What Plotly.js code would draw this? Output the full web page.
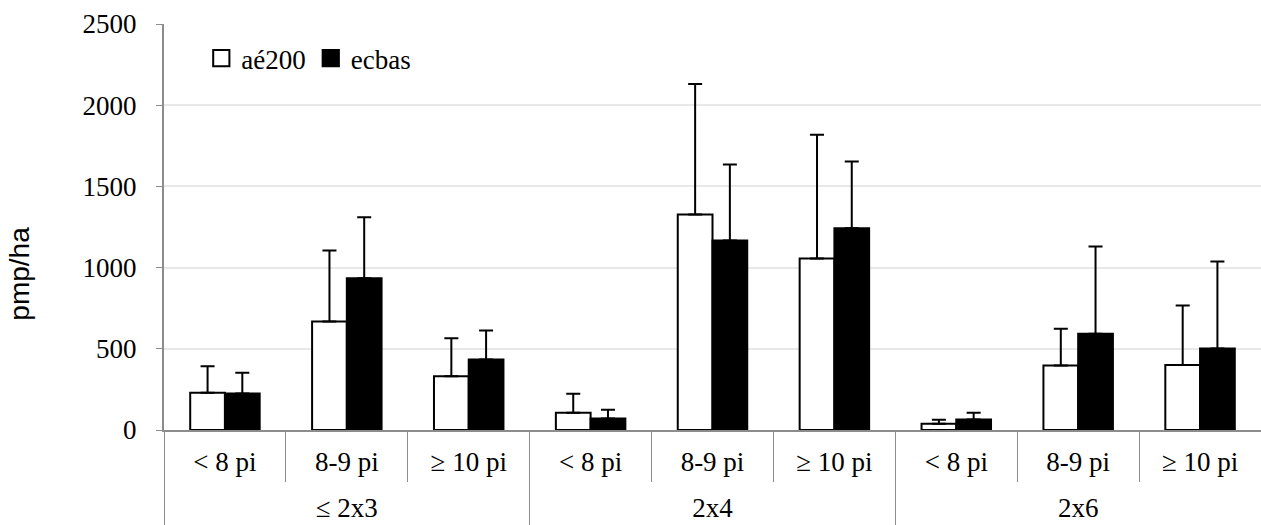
<!DOCTYPE html>
<html>
<head>
<meta charset="utf-8">
<script src="https://cdn.plot.ly/plotly-3.0.1.min.js"></script>
<style>html,body{margin:0;padding:0;background:#fff;}#chart{width:1261px;height:525px;}</style>
</head>
<body>
<div id="chart"></div>
<script>
const groups = ["≤ 2x3","≤ 2x3","≤ 2x3","2x4","2x4","2x4","2x6","2x6","2x6"];
const classes = ["< 8 pi","8-9 pi","≥ 10 pi","< 8 pi","8-9 pi","≥ 10 pi","< 8 pi","8-9 pi","≥ 10 pi"];
const ae200 = [229, 668, 331, 106, 1327, 1056, 38, 397, 401];
const ae200Err = [164, 437, 234, 117, 803, 762, 25, 226, 366];
const ecbas = [225, 935, 434, 71, 1167, 1243, 65, 592, 502];
const ecbasErr = [127, 375, 179, 53, 468, 410, 41, 538, 536];
const yTitle = "pmp/ha";

const serif = "Liberation Serif, serif";
const tickFont = {family: serif, size: 27, color: "#000"};

const traces = [
  {type: "bar", name: "aé200", x: [groups, classes], y: ae200,
   marker: {color: "#fff", line: {color: "#000", width: 2}},
   error_y: {type: "data", array: ae200Err, symmetric: false, arrayminus: ae200.map(() => 0), color: "#000", thickness: 2, width: 7}},
  {type: "bar", name: "ecbas", x: [groups, classes], y: ecbas,
   marker: {color: "#000", line: {color: "#000", width: 2}},
   error_y: {type: "data", array: ecbasErr, symmetric: false, arrayminus: ecbas.map(() => 0), color: "#000", thickness: 2, width: 7}}
];

const layout = {
  width: 1261, height: 525,
  margin: {l: 164, r: 0, t: 24, b: 95},
  paper_bgcolor: "#fff", plot_bgcolor: "#fff",
  barmode: "group", bargap: 0.43, bargroupgap: 0,
  showlegend: true,
  legend: {orientation: "h", x: 0.034, y: 0.975, xanchor: "left", yanchor: "top",
           font: {family: serif, size: 27, color: "#000"},
           bgcolor: "rgba(0,0,0,0)", itemwidth: 30, traceorder: "normal"},
  xaxis: {type: "multicategory", showline: true, linecolor: "#8c8c8c", linewidth: 2,
          ticks: "outside", ticklen: 50, tickcolor: "#8c8c8c", tickwidth: 1,
          showdividers: true, dividercolor: "#8c8c8c", dividerwidth: 1,
          tickfont: tickFont, showgrid: false, automargin: false, ticklabelstandoff: 7},
  yaxis: {range: [0, 2500], dtick: 500, tick0: 0, showgrid: true, gridcolor: "#e8e8e8", gridwidth: 2,
          showline: true, linecolor: "#8c8c8c", linewidth: 2, ticks: "outside", ticklen: 6,
          tickcolor: "#8c8c8c", tickfont: tickFont, zeroline: false, ticklabelstandoff: 14, automargin: false},
  annotations: [{text: yTitle, xref: "paper", yref: "paper", x: -0.1313, y: 0.385,
                 xanchor: "center", yanchor: "middle", textangle: -90, showarrow: false,
                 font: {family: "Liberation Sans, Arial, sans-serif", size: 28, color: "#000"}}]
};

Plotly.newPlot("chart", traces, layout, {displayModeBar: false, staticPlot: true}).then(gd => {
  const shift = 21;
  gd.querySelectorAll("g.xtick2 text").forEach(t => {
    const tr = t.getAttribute("transform") || "";
    t.setAttribute("transform", tr + " translate(0," + shift + ")");
  });
  gd.querySelectorAll("path.xdivider").forEach(p => {
    const d = p.getAttribute("d") || "";
    p.setAttribute("d", d.replace(/v(-?[\d.]+)/, (m, n) => "v" + (parseFloat(n) + shift + 15)));
  });
  gd.querySelectorAll("g.legendpoints path").forEach(p => {
    const tr = p.getAttribute("transform") || "";
    p.setAttribute("transform", tr + " scale(1.35)");
    p.style.strokeWidth = "1.5px";
  });
});
</script>
</body>
</html>
